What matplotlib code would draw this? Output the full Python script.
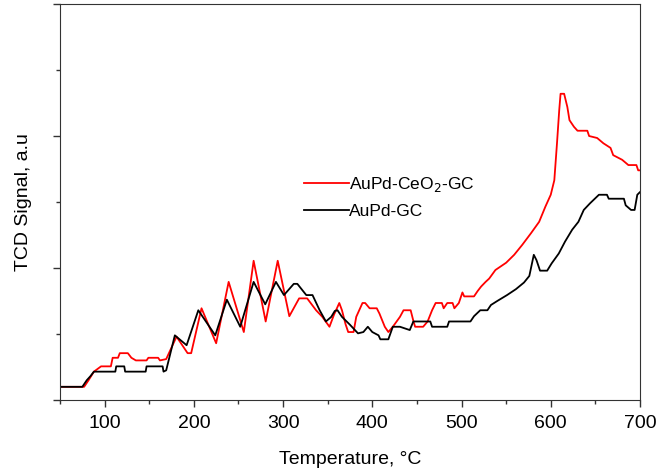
import matplotlib.pyplot as plt
from matplotlib.ticker import MultipleLocator

plt.rcParams['font.family'] = ['Liberation Sans', 'DejaVu Sans']

# AuPd-CeO2-GC (red)
t_red = [50, 77, 82, 88, 96, 107, 109, 115, 117, 126, 130, 135, 147, 149, 160, 162, 169,
         180.6, 193, 197, 208.6, 225, 239, 256, 267, 280.5, 294, 307, 318, 327, 337, 344,
         352, 357, 363, 366, 370, 373, 379, 382, 389, 392, 397, 405, 408, 414, 418, 423,
         431, 435, 443, 446, 448, 457, 462, 467, 471, 478, 480, 484, 490, 492, 497, 501,
         503, 514, 518, 522, 527, 531, 538, 550, 559, 568, 578, 587, 594, 600, 604, 607,
         609.5, 611, 615, 618.6, 621, 626, 630, 641, 643, 652, 659, 667, 670, 680, 687,
         696, 698, 700]
s_red = [0.2, 0.2, 0.3, 0.43, 0.51, 0.51, 0.64, 0.64, 0.71, 0.71, 0.64, 0.60, 0.60, 0.64,
         0.64, 0.60, 0.62, 0.96, 0.71, 0.71, 1.39, 0.86, 1.79, 1.03, 2.11, 1.19, 2.11,
         1.27, 1.54, 1.54, 1.36, 1.26, 1.11, 1.29, 1.47, 1.36, 1.15, 1.03, 1.03, 1.26,
         1.47, 1.47, 1.39, 1.39, 1.31, 1.11, 1.03, 1.11, 1.26, 1.36, 1.36, 1.20, 1.11,
         1.11, 1.19, 1.36, 1.47, 1.47, 1.39, 1.47, 1.47, 1.39, 1.47, 1.63, 1.57, 1.57,
         1.65, 1.72, 1.79, 1.84, 1.97, 2.08, 2.2, 2.35, 2.53, 2.70, 2.93, 3.11, 3.33,
         3.89, 4.39, 4.64, 4.64, 4.44, 4.24, 4.14, 4.08, 4.08, 4.0, 3.97, 3.89, 3.82,
         3.71, 3.64, 3.56, 3.56, 3.48, 3.48]

# AuPd-GC (black)
t_blk = [50, 75, 80, 84, 88, 112, 113, 122, 123, 146, 147, 165, 166, 169, 178.7, 191.9,
         205, 224, 237, 252, 267, 280, 292, 301, 312, 316, 326, 333, 341, 348, 354, 358,
         361, 366, 375, 384, 390, 395, 400, 407, 409, 418, 423, 431, 442, 446, 465, 467,
         484, 486, 510, 514, 521, 529, 533, 540, 551, 561, 570, 576, 581, 584, 588, 596,
         601, 609, 616, 624, 631, 637, 644, 654, 663, 665, 682, 684, 690, 694, 697, 700]
s_blk = [0.2, 0.2, 0.3, 0.36, 0.43, 0.43, 0.51, 0.51, 0.43, 0.43, 0.51, 0.51, 0.43, 0.45,
         0.98, 0.83, 1.36, 0.98, 1.52, 1.11, 1.79, 1.45, 1.79, 1.59, 1.76, 1.76, 1.59,
         1.59, 1.36, 1.19, 1.26, 1.35, 1.36, 1.26, 1.14, 1.01, 1.03, 1.11, 1.03, 0.98,
         0.92, 0.92, 1.11, 1.11, 1.06, 1.19, 1.19, 1.11, 1.11, 1.19, 1.19, 1.27, 1.36,
         1.36, 1.44, 1.50, 1.59, 1.68, 1.78, 1.88, 2.2, 2.12, 1.96, 1.96, 2.07, 2.22,
         2.40, 2.58, 2.70, 2.88, 2.98, 3.11, 3.11, 3.05, 3.05, 2.95, 2.88, 2.88, 3.11,
         3.15]

fig = plt.figure(figsize=(6.58, 4.72), dpi=100)
ax = fig.add_axes([0.0912, 0.1525, 0.8814, 0.839])

ax.plot(t_red, s_red, color='#ff0000', lw=1.3, label='AuPd-CeO$_2$-GC')
ax.plot(t_blk, s_blk, color='black', lw=1.3, label='AuPd-GC')

ax.set_xlim(50, 700)
ax.set_ylim(0, 6)
ax.xaxis.set_major_locator(MultipleLocator(100))
ax.xaxis.set_minor_locator(MultipleLocator(50))
ax.yaxis.set_major_locator(MultipleLocator(2))
ax.yaxis.set_minor_locator(MultipleLocator(1))
ax.set_yticklabels([])
ax.tick_params(which='major', direction='out', length=5, width=1, labelsize=14, pad=6,
               colors='#333333', labelcolor='black')
ax.tick_params(which='minor', direction='out', length=3, width=1, colors='#333333')
for sp in ax.spines.values():
    sp.set_color('#333333')

ax.set_xlabel('Temperature, °C', fontsize=14)
ax.xaxis.set_label_coords(0.5, -0.128)
ax.set_ylabel('TCD Signal, a.u', fontsize=14)
ax.yaxis.set_label_coords(-0.048, 0.5)

ax.legend(loc='upper left', bbox_to_anchor=(0.42, 0.567), frameon=False, fontsize=12.5,
          handlelength=2.6, handletextpad=0.0, borderpad=0, borderaxespad=0,
          labelspacing=0.55)

fig.savefig('out.png', dpi=100)
